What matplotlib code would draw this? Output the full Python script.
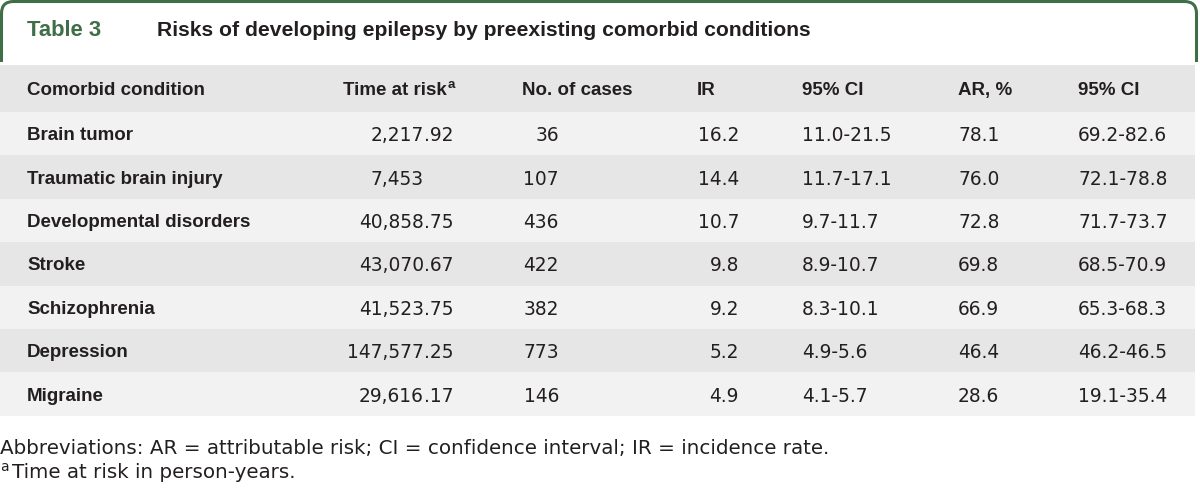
import matplotlib.pyplot as plt
from matplotlib.patches import Rectangle, FancyBboxPatch

# ---------- table data ----------
conditions = ["Brain tumor", "Traumatic brain injury", "Developmental disorders",
              "Stroke", "Schizophrenia", "Depression", "Migraine"]
time_at_risk = ["2,217.92", "7,453", "40,858.75", "43,070.67", "41,523.75",
                "147,577.25", "29,616.17"]
n_cases = ["36", "107", "436", "422", "382", "773", "146"]
ir = ["16.2", "14.4", "10.7", "9.8", "9.2", "5.2", "4.9"]
ir_ci = ["11.0-21.5", "11.7-17.1", "9.7-11.7", "8.9-10.7", "8.3-10.1",
         "4.9-5.6", "4.1-5.7"]
ar = ["78.1", "76.0", "72.8", "69.8", "66.9", "46.4", "28.6"]
ar_ci = ["69.2-82.6", "72.1-78.8", "71.7-73.7", "68.5-70.9", "65.3-68.3",
         "46.2-46.5", "19.1-35.4"]
headers = ["Comorbid condition", "Time at risk", "No. of cases", "IR",
           "95% CI", "AR, %", "95% CI"]

table_label = "Table 3"
title = "Risks of developing epilepsy by preexisting comorbid conditions"
foot1 = "Abbreviations: AR = attributable risk; CI = confidence interval; IR = incidence rate."
foot2 = "Time at risk in person-years."

# ---------- style ----------
green = "#3f6e47"
ink = "#231f20"
band_dark = "#e6e6e6"
band_light = "#f2f2f2"
bold_font = "Liberation Sans"
reg_font = "DejaVu Sans"

W, H = 1200, 488
fig = plt.figure(figsize=(12, 4.88), dpi=100)
ax = fig.add_axes([0, 0, 1, 1])
ax.set_xlim(0, W)
ax.set_ylim(H, 0)
ax.axis("off")

# green frame round the title (top part only)
frame = FancyBboxPatch((1.5, 1.5), 1195, 120, boxstyle="round,pad=0,rounding_size=12",
                       fc="none", ec=green, lw=2.2)
ax.add_patch(frame)
clip = Rectangle((0, 0), W, 62, transform=ax.transData)
frame.set_clip_path(clip)

ax.text(27, 31, table_label, color=green, fontsize=15.8, fontweight="bold",
        family=bold_font, va="center", ha="left")
ax.text(157, 31, title, color=ink, fontsize=15.2, fontweight="bold",
        family=bold_font, va="center", ha="left")

# header band + row bands
head_top, head_bot = 65, 112
row_h = 43.4
band_w = 1195
ax.add_patch(Rectangle((0, head_top), band_w, head_bot - head_top, fc=band_dark, ec="none"))
for i in range(len(conditions)):
    col = band_light if i % 2 == 0 else band_dark
    ax.add_patch(Rectangle((0, head_bot + i * row_h), band_w, row_h, fc=col, ec="none"))

# column anchors
x_cond = 27
x_time_head = 343
x_time_dec = 424
x_cases_head = 522
x_cases_r = 559
x_ir_head = 697
x_ir_r = 739
x_ci1 = 802
x_ar = 958
x_ci2 = 1078

bfs = 13.5
rfs = 13.4
dy = 2
hy = (head_top + head_bot) / 2 + dy
hx = [x_cond, x_time_head, x_cases_head, x_ir_head, x_ci1, x_ar, x_ci2]
for x, h in zip(hx, headers):
    t = ax.text(x, hy, h, color=ink, fontsize=bfs, fontweight="bold",
                family=bold_font, va="center", ha="left")
    if h == "Time at risk":
        fig.canvas.draw()
        bb = t.get_window_extent()
        ax.text(bb.x1 + 1, hy - 6, "a", color=ink, fontsize=9.5, fontweight="bold",
                family=bold_font, va="center", ha="left")

for i in range(len(conditions)):
    y = head_bot + i * row_h + row_h / 2 + dy
    ax.text(x_cond, y, conditions[i], color=ink, fontsize=bfs, fontweight="bold",
            family=bold_font, va="center", ha="left")
    # decimal aligned time at risk
    parts = time_at_risk[i].split(".")
    ax.text(x_time_dec, y, parts[0], color=ink, fontsize=rfs, family=reg_font,
            va="center", ha="right")
    if len(parts) > 1:
        ax.text(x_time_dec, y, "." + parts[1], color=ink, fontsize=rfs,
                family=reg_font, va="center", ha="left")
    ax.text(x_cases_r, y, n_cases[i], color=ink, fontsize=rfs, family=reg_font,
            va="center", ha="right")
    ax.text(x_ir_r, y, ir[i], color=ink, fontsize=rfs, family=reg_font,
            va="center", ha="right")
    ax.text(x_ci1, y, ir_ci[i], color=ink, fontsize=rfs, family=reg_font,
            va="center", ha="left")
    ax.text(x_ar, y, ar[i], color=ink, fontsize=rfs, family=reg_font,
            va="center", ha="left")
    ax.text(x_ci2, y, ar_ci[i], color=ink, fontsize=rfs, family=reg_font,
            va="center", ha="left")

# footnotes
ax.text(0, 449, foot1, color=ink, fontsize=14.3, family=reg_font,
        va="center", ha="left")
ax.text(0, 467, "a", color=ink, fontsize=10, family=reg_font, va="center", ha="left")
ax.text(12, 473, foot2, color=ink, fontsize=14.3, family=reg_font,
        va="center", ha="left")

fig.savefig("out.png", dpi=100)
